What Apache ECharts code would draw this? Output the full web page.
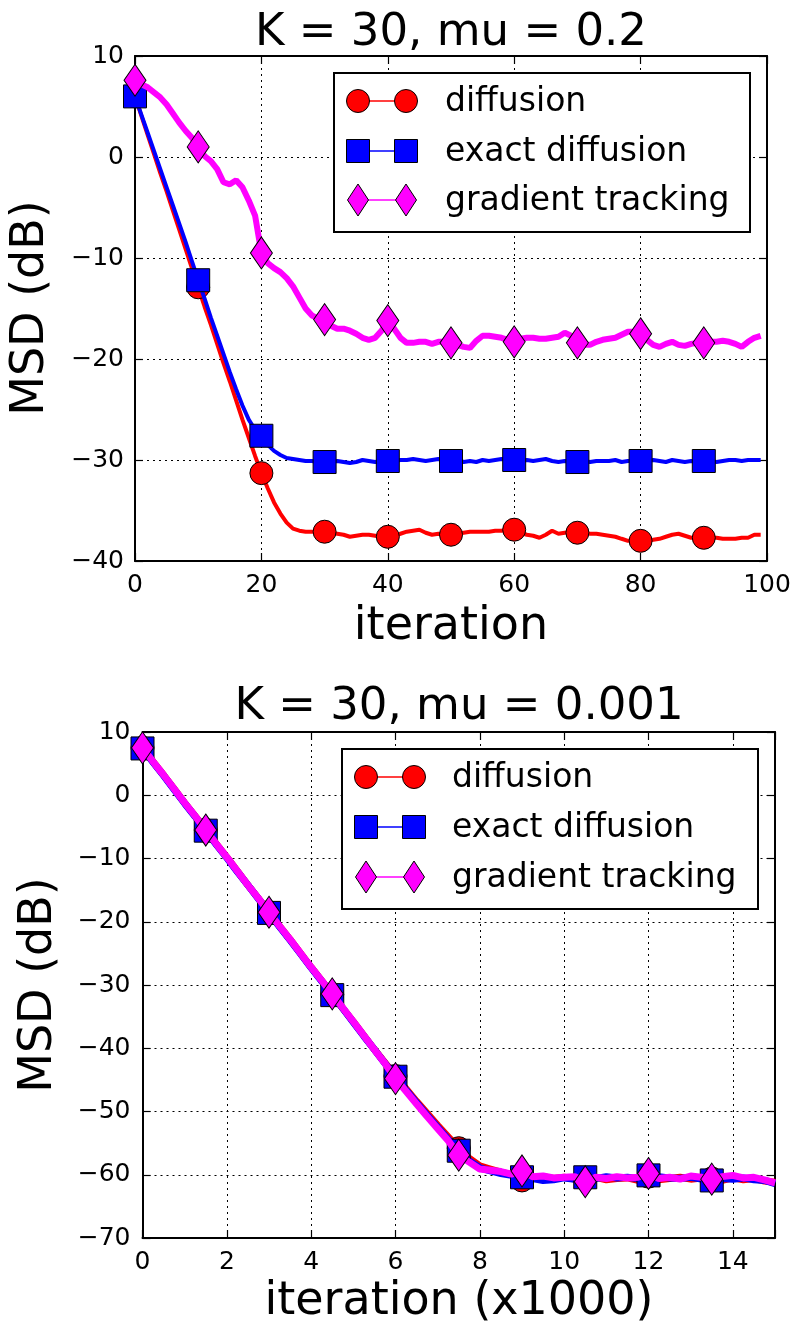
<!DOCTYPE html>
<html>
<head>
<meta charset="utf-8">
<script src="https://cdn.jsdelivr.net/npm/echarts@6/dist/echarts.min.js"></script>
<style>
  html, body { margin: 0; padding: 0; background: #fff; }
  #chart { width: 795px; height: 1328px; }
</style>
</head>
<body>
<div id="chart"></div>
<script>
// ---- data ----------------------------------------------------------------
const seriesNames = ['diffusion', 'exact diffusion', 'gradient tracking'];

// Panel 1: K = 30, mu = 0.2 — MSD (dB) at iterations 0..99
const diffusionFast = [
  6.0, 4.1, 2.2, 0.3, -1.6, -3.4, -5.3, -7.2, -9.1, -11.0,
  -12.9, -14.8, -16.6, -18.5, -20.4, -22.2, -24.1, -26.0, -27.8, -29.6,
  -31.3, -32.8, -34.2, -35.3, -36.2, -36.8, -37.0, -37.1, -37.1, -37.1,
  -37.1, -37.2, -37.3, -37.4, -37.6, -37.5, -37.4, -37.4, -37.5, -37.6,
  -37.6, -37.5, -37.3, -37.1, -37.0, -36.9, -37.2, -37.4, -37.3, -37.4,
  -37.4, -37.3, -37.2, -37.1, -37.1, -37.1, -37.1, -37.0, -37.0, -36.9,
  -36.9, -37.2, -37.4, -37.5, -37.7, -37.4, -37.0, -37.3, -37.2, -37.1,
  -37.2, -37.2, -37.3, -37.3, -37.4, -37.5, -37.6, -37.8, -38.0, -38.0,
  -38.0, -38.0, -37.9, -37.8, -37.6, -37.4, -37.3, -37.5, -37.7, -37.7,
  -37.7, -37.7, -37.7, -37.8, -37.8, -37.8, -37.7, -37.7, -37.4, -37.4
];
const exactFast = [
  6.0, 4.2, 2.4, 0.6, -1.2, -3.0, -4.8, -6.6, -8.4, -10.3,
  -12.2, -14.0, -15.9, -17.7, -19.5, -21.3, -23.0, -24.6, -26.0, -27.0,
  -27.6, -28.5, -29.1, -29.5, -29.8, -29.9, -30.0, -30.1, -30.1, -30.2,
  -30.2, -30.2, -30.1, -30.2, -30.3, -30.2, -30.0, -30.1, -30.2, -30.1,
  -30.1, -30.1, -30.0, -30.0, -29.9, -30.0, -30.1, -30.0, -29.9, -30.0,
  -30.1, -30.0, -30.2, -30.1, -30.2, -30.0, -30.1, -30.0, -29.9, -30.0,
  -30.0, -30.1, -30.0, -30.1, -30.0, -29.9, -30.1, -30.2, -30.1, -30.2,
  -30.2, -30.1, -30.2, -30.1, -30.1, -30.1, -30.0, -30.2, -30.1, -30.1,
  -30.1, -30.1, -30.0, -30.1, -30.2, -30.0, -30.1, -30.2, -30.1, -30.2,
  -30.1, -30.1, -30.2, -30.1, -30.0, -30.0, -30.1, -30.0, -30.0, -30.0
];
const trackingFast = [
  7.6, 7.2, 6.9, 6.4, 5.9, 5.2, 4.3, 3.4, 2.6, 1.9,
  1.0, 0.1, -0.4, -1.2, -2.5, -2.7, -2.3, -3.0, -4.3, -5.8,
  -9.5, -10.5, -11.0, -11.4, -12.0, -12.8, -13.9, -15.0, -15.7, -16.0,
  -16.1, -16.7, -17.0, -17.0, -17.2, -17.5, -17.9, -18.1, -17.9, -17.2,
  -16.2, -17.0, -17.9, -18.4, -18.4, -18.3, -18.3, -18.5, -18.3, -18.3,
  -18.4, -18.6, -18.8, -18.9, -18.2, -17.7, -17.7, -17.8, -17.9, -18.1,
  -18.3, -18.0, -17.9, -17.9, -18.0, -18.0, -17.9, -17.8, -17.4, -17.7,
  -18.4, -18.6, -18.6, -18.3, -18.1, -18.0, -17.9, -17.6, -17.3, -17.3,
  -17.5, -18.1, -18.6, -18.8, -18.5, -18.3, -18.6, -18.7, -18.5, -18.4,
  -18.4, -18.3, -18.3, -18.2, -18.3, -18.5, -18.8, -18.3, -17.9, -17.7
];

// Panel 2: K = 30, mu = 0.001 — MSD (dB) sampled every 250 iterations (0..15 x1000)
const diffusionSlow = [
  7.5, 5.3, 3.2, 1.0, -1.2, -3.3, -5.5, -7.7, -9.8, -12.0,
  -14.2, -16.3, -18.5, -20.7, -22.8, -25.0, -27.2, -29.3, -31.5, -33.7,
  -35.8, -38.0, -40.2, -42.3, -44.4, -46.4, -48.4, -50.3, -52.2, -54.0,
  -55.8, -57.4, -58.6, -59.1, -59.6, -60.0, -60.9, -60.5, -60.3, -60.6,
  -60.4, -60.7, -60.6, -60.4, -60.8, -60.6, -60.5, -60.9, -60.3, -60.8,
  -60.6, -60.4, -60.7, -60.5, -60.6, -60.9, -60.5, -60.8, -60.6, -61.0,
  -61.2
];
const exactSlow = [
  7.4, 5.2, 3.1, 0.9, -1.3, -3.4, -5.6, -7.8, -9.9, -12.1,
  -14.2, -16.4, -18.6, -20.8, -22.9, -25.1, -27.3, -29.4, -31.6, -33.7,
  -35.9, -38.1, -40.2, -42.4, -44.5, -46.6, -48.6, -50.6, -52.5, -54.4,
  -56.2, -57.8, -58.9, -59.4, -59.8, -60.1, -60.4, -60.6, -60.9, -60.8,
  -60.5, -60.7, -60.4, -60.6, -60.3, -60.5, -60.4, -60.6, -60.1, -60.3,
  -60.5, -60.6, -60.4, -60.7, -60.9, -60.6, -60.7, -60.5, -60.8, -60.9,
  -61.4
];
const trackingSlow = [
  7.5, 5.3, 3.2, 1.0, -1.2, -3.3, -5.5, -7.7, -9.8, -12.0,
  -14.2, -16.3, -18.5, -20.7, -22.8, -25.0, -27.2, -29.3, -31.4, -33.6,
  -35.8, -38.0, -40.2, -42.4, -44.8, -46.8, -48.8, -50.8, -52.7, -54.6,
  -56.9, -58.0, -59.1, -59.3, -59.5, -59.9, -59.4, -60.3, -60.2, -60.5,
  -60.4, -60.3, -61.1, -60.4, -60.6, -60.3, -60.5, -60.4, -59.8, -60.6,
  -60.4, -60.7, -60.2, -60.4, -60.7, -60.3, -60.1, -60.5, -60.4, -60.8,
  -61.3
];

// axis ticks
const xTicksFast = [0, 20, 40, 60, 80, 100];
const yTicksFast = [-40, -30, -20, -10, 0, 10];
const xTicksSlow = [0, 2, 4, 6, 8, 10, 12, 14];
const xMaxSlow = 15;
const yTicksSlow = [-70, -60, -50, -40, -30, -20, -10, 0, 10];

const stepFast = 1;      // one sample per iteration
const stepSlow = 0.25;   // thousands of iterations per sample
const markEveryFast = 10;
const markEverySlow = 6;

// ---- styling helpers -----------------------------------------------------
const FONT = '"DejaVu Sans", "Liberation Sans", sans-serif';
const TICK_FONT = 25;
const colors = ['#ff0000', '#0000ff', '#ff00ff'];
const symbols = ['circle', 'rect', 'diamond'];
const symbolSizes = [23, 23, [22, 32]];

const minus = v => (v < 0 ? '\u2212' + (-v) : String(v));

function pairs(values, step) {
  return values.map((v, i) => [i * step, v]);
}

function lineSeries(k, values, step, every, idx, width) {
  const last = values.length - 1;
  return {
    type: 'line',
    name: seriesNames[k],
    xAxisIndex: idx,
    yAxisIndex: idx,
    data: pairs(values, step),
    smooth: false,
    animation: false,
    silent: true,
    showSymbol: true,
    symbol: (val, p) => (p.dataIndex % every === 0 && p.dataIndex < last ? symbols[k] : 'none'),
    symbolSize: symbolSizes[k],
    lineStyle: { color: colors[k], width: width },
    itemStyle: { color: colors[k], borderColor: '#000', borderWidth: 1, opacity: 1 },
    emphasis: { disabled: true },
    z: 2 + k
  };
}

function axes(gridIndex, xTicks, xMax, yTicks, labelMargins) {
  const xInterval = xTicks[1] - xTicks[0];
  const yInterval = yTicks[1] - yTicks[0];
  const tick = { show: true, inside: true, length: 8, lineStyle: { color: '#000', width: 1.2 } };
  const line = { show: true, onZero: false, lineStyle: { color: '#000', width: 2 } };
  const dotted = { show: true, lineStyle: { color: '#000', width: 1, type: [2, 4] } };
  const base = { gridIndex: gridIndex, type: 'value' };
  const xs = [
    Object.assign({}, base, {
      position: 'bottom', min: xTicks[0], max: xMax, interval: xInterval,
      axisLine: line, axisTick: tick, splitLine: dotted,
      axisLabel: {
        color: '#000', fontFamily: FONT, fontSize: TICK_FONT, margin: labelMargins[0],
        formatter: v => (xTicks.indexOf(v) < 0 ? '' : minus(v))
      }
    }),
    Object.assign({}, base, {
      position: 'top', min: xTicks[0], max: xMax, interval: xInterval,
      axisLine: line, axisTick: tick, splitLine: { show: false }, axisLabel: { show: false }
    })
  ];
  const ys = [
    Object.assign({}, base, {
      position: 'left', min: yTicks[0], max: yTicks[yTicks.length - 1], interval: yInterval,
      axisLine: line, axisTick: tick, splitLine: dotted,
      axisLabel: { color: '#000', fontFamily: FONT, fontSize: TICK_FONT, margin: labelMargins[1], formatter: minus }
    }),
    Object.assign({}, base, {
      position: 'right', min: yTicks[0], max: yTicks[yTicks.length - 1], interval: yInterval,
      axisLine: line, axisTick: tick, splitLine: { show: false }, axisLabel: { show: false }
    })
  ];
  return { xs, ys };
}

function text(str, x, y, size, opts) {
  return Object.assign({
    type: 'text', x: x, y: y, z: 100, silent: true,
    style: {
      text: str, x: 0, y: 0, fill: '#000',
      font: size + 'px ' + FONT,
      align: (opts && opts.align) || 'left', textAlign: (opts && opts.align) || 'left',
      verticalAlign: 'middle', textVerticalAlign: 'middle'
    }
  }, (opts && opts.rotation) ? { rotation: opts.rotation } : {});
}

function marker(k, cx, cy) {
  const style = { fill: colors[k], stroke: '#000', lineWidth: 1 };
  if (k === 0) return { type: 'circle', z: 101, shape: { cx: cx, cy: cy, r: 11.5 }, style };
  if (k === 1) return { type: 'rect', z: 101, shape: { x: cx - 11.5, y: cy - 11.5, width: 23, height: 23 }, style };
  return { type: 'polygon', z: 101,
    shape: { points: [[cx, cy - 16], [cx + 10.5, cy], [cx, cy + 16], [cx - 10.5, cy]] }, style };
}

function legendBox(box, rowsY, m1, m2, tx) {
  const els = [{
    type: 'rect', z: 99, silent: true,
    shape: { x: box[0], y: box[1], width: box[2], height: box[3] },
    style: { fill: '#fff', stroke: '#000', lineWidth: 2 }
  }];
  rowsY.forEach((cy, k) => {
    els.push({ type: 'line', z: 100, shape: { x1: m1, y1: cy, x2: m2, y2: cy },
      style: { stroke: colors[k], lineWidth: 1.5 } });
    els.push(marker(k, m1, cy));
    els.push(marker(k, m2, cy));
    els.push(text(seriesNames[k], tx, cy + 1, 33));
  });
  return els;
}

// ---- chart ---------------------------------------------------------------
const a1 = axes(0, xTicksFast, xTicksFast[xTicksFast.length - 1], yTicksFast, [12, 11]);
const a2 = axes(1, xTicksSlow, xMaxSlow, yTicksSlow, [12, 12]);

const option = {
  backgroundColor: '#fff',
  animation: false,
  grid: [
    { left: 135, top: 56, width: 632, height: 505 },
    { left: 142.5, top: 732, width: 632.5, height: 506 }
  ],
  xAxis: [a1.xs[0], a1.xs[1], a2.xs[0], a2.xs[1]],
  yAxis: [a1.ys[0], a1.ys[1], a2.ys[0], a2.ys[1]],
  series: [
    lineSeries(0, diffusionFast, stepFast, markEveryFast, 0, 4),
    lineSeries(1, exactFast, stepFast, markEveryFast, 0, 4),
    lineSeries(2, trackingFast, stepFast, markEveryFast, 0, 6),
    lineSeries(0, diffusionSlow, stepSlow, markEverySlow, 2, 7),
    lineSeries(1, exactSlow, stepSlow, markEverySlow, 2, 7),
    lineSeries(2, trackingSlow, stepSlow, markEverySlow, 2, 7)
  ],
  graphic: {
    elements: [
      text('K = 30, mu = 0.2', 451, 33, 45, { align: 'center' }),
      text('K = 30, mu = 0.001', 459, 707, 45, { align: 'center' }),
      text('iteration', 451, 627, 46, { align: 'center' }),
      text('iteration (x1000)', 459, 1302, 46, { align: 'center' }),
      text('MSD (dB)', 31, 308, 46, { align: 'center', rotation: Math.PI / 2 }),
      text('MSD (dB)', 39, 985, 46, { align: 'center', rotation: Math.PI / 2 })
    ]
      .concat(legendBox([334, 73, 416, 159], [101, 151, 200], 358, 406, 445))
      .concat(legendBox([342, 749, 416, 160], [777, 827, 877], 366, 414, 452))
  }
};

// second grid gets the second pair of axes
option.xAxis[2].gridIndex = 1; option.xAxis[3].gridIndex = 1;
option.yAxis[2].gridIndex = 1; option.yAxis[3].gridIndex = 1;

const chart = echarts.init(document.getElementById('chart'), null, { renderer: 'canvas' });
chart.setOption(option);
</script>
</body>
</html>
